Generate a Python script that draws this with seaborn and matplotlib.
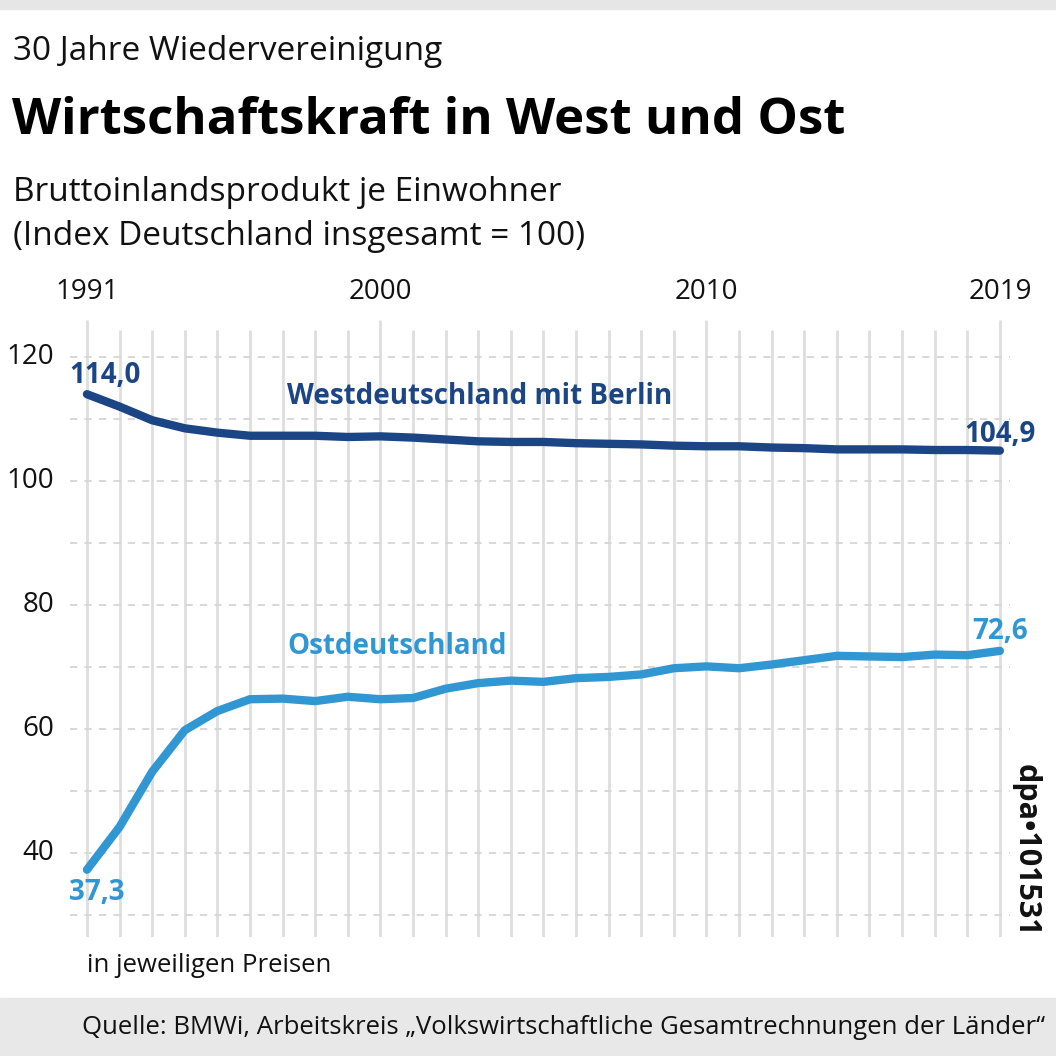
"""Wirtschaftskraft in West und Ost - dpa style line chart."""

import matplotlib
matplotlib.use("Agg")
import matplotlib.pyplot as plt
import matplotlib.patches as mpatches
from matplotlib import font_manager
import numpy as np
import pandas as pd
import seaborn as sns

# ── Data ──
years = list(range(1991, 2020))
west = [114.0, 112.0, 109.8, 108.5, 107.8, 107.3, 107.3, 107.3, 107.1, 107.2,
        107.0, 106.7, 106.4, 106.3, 106.3, 106.1, 106.0, 105.9, 105.7, 105.6,
        105.6, 105.4, 105.3, 105.1, 105.1, 105.1, 105.0, 105.0, 104.9]
east = [37.3, 44.2, 53.1, 59.8, 62.9, 64.8, 64.9, 64.5, 65.2, 64.8,
        65.0, 66.5, 67.4, 67.8, 67.6, 68.2, 68.4, 68.8, 69.8, 70.1,
        69.8, 70.4, 71.1, 71.8, 71.7, 71.6, 72.0, 71.9, 72.6]
labeled_years = [1991, 2000, 2010, 2019]
y_ticks = [40, 60, 80, 100, 120]
y_grid = [30, 40, 50, 60, 70, 80, 90, 100, 110, 120]

WEST_NAME = "Westdeutschland mit Berlin"
EAST_NAME = "Ostdeutschland"
COLORS = {WEST_NAME: "#1b4584", EAST_NAME: "#3197d3"}

df = pd.concat([
    pd.DataFrame({"Jahr": years, "Index": west, "Region": WEST_NAME}),
    pd.DataFrame({"Jahr": years, "Index": east, "Region": EAST_NAME}),
])

# ── Fonts ──
installed = {f.name for f in font_manager.fontManager.ttflist}
NARROW = "Liberation Sans Narrow" if "Liberation Sans Narrow" in installed else "Open Sans"
TEXT = "Open Sans"

sns.set_style("white")
plt.rcParams["font.family"] = [TEXT, "DejaVu Sans"]

W = H = 1056
fig = plt.figure(figsize=(W / 100, H / 100), dpi=100)


def fx(px):
    return px / W


def fy(py):
    return 1 - py / H


# background strips
fig.patches.append(mpatches.Rectangle((0, fy(9)), 1, 9 / H, transform=fig.transFigure,
                                      color="#e6e6e6", zorder=0))
fig.patches.append(mpatches.Rectangle((0, 0), 1, (H - 998) / H, transform=fig.transFigure,
                                      color="#e8e8e8", zorder=0))

# axes: left 70px, right 1010px, top 320px, bottom 937px
ax = fig.add_axes([fx(70), fy(937), fx(1010 - 70), (937 - 320) / H])
ax.set_xlim(1990.48, 2019.31)
ax.set_ylim(26.45, 125.97)
ax.set_axis_off()

# vertical grid
for yr in years:
    top = 125.97 if yr in labeled_years else 124.4
    ax.vlines(yr, 26.45, top, color="#dedede", lw=2.0, zorder=1)
# horizontal dashed grid
for v in y_grid:
    ax.axhline(v, color="#d6d6d6", lw=1.3, ls=(0, (4, 4)), zorder=1)

sns.lineplot(data=df, x="Jahr", y="Index", hue="Region", palette=COLORS,
             lw=6, ax=ax, legend=False, zorder=3)
for line in ax.lines:
    line.set_solid_capstyle("round")

# tick labels
for v in y_ticks:
    ax.text(1990.0, v, str(v), ha="right", va="center", fontsize=20,
            family=NARROW, color="#111111")
for yr in labeled_years:
    ax.text(yr, 130.5, str(yr), ha="center", va="center", fontsize=20,
            family=NARROW, color="#111111")

# value labels
ax.text(1990.45, west[0] + 3.0, "114,0", ha="left", va="center", fontsize=20,
        fontweight="bold", color=COLORS[WEST_NAME])
ax.text(1990.45, east[0] - 3.6, "37,3", ha="left", va="center", fontsize=20,
        fontweight="bold", color=COLORS[EAST_NAME])
ax.text(2019.0, west[-1] + 2.6, "104,9", ha="center", va="center", fontsize=20,
        fontweight="bold", color=COLORS[WEST_NAME], clip_on=False)
ax.text(2019.0, east[-1] + 3.2, "72,6", ha="center", va="center", fontsize=20,
        fontweight="bold", color=COLORS[EAST_NAME], clip_on=False)

# series labels
ax.text(1997.15, 113.6, WEST_NAME, ha="left", va="center", fontsize=20,
        fontweight="bold", color=COLORS[WEST_NAME])
ax.text(1997.15, 73.3, EAST_NAME, ha="left", va="center", fontsize=20,
        fontweight="bold", color=COLORS[EAST_NAME])

# titles
fig.text(fx(13), fy(52), "30 Jahre Wiedervereinigung", ha="left", va="center",
         fontsize=24, color="#111111")
fig.text(fx(12), fy(121), "Wirtschaftskraft in West und Ost", ha="left", va="center",
         fontsize=36.6, fontweight="bold", color="#000000")
fig.text(fx(13), fy(192), "Bruttoinlandsprodukt je Einwohner", ha="left", va="center",
         fontsize=24, color="#111111")
fig.text(fx(13), fy(237), "(Index Deutschland insgesamt = 100)", ha="left", va="center",
         fontsize=24, color="#111111")

fig.text(fx(87), fy(965), "in jeweiligen Preisen", ha="left", va="center",
         fontsize=18.5, color="#111111")
fig.text(fx(1045), fy(1027),
         "Quelle: BMWi, Arbeitskreis \u201eVolkswirtschaftliche Gesamtrechnungen der L\u00e4nder\u201c",
         ha="right", va="center", fontsize=18.5, color="#111111")
fig.text(fx(1026), fy(850), "dpa\u2022101531", ha="center", va="center", rotation=-90,
         fontsize=22, fontweight="bold", color="#111111")

fig.savefig("out.png", dpi=100)
plt.close(fig)
